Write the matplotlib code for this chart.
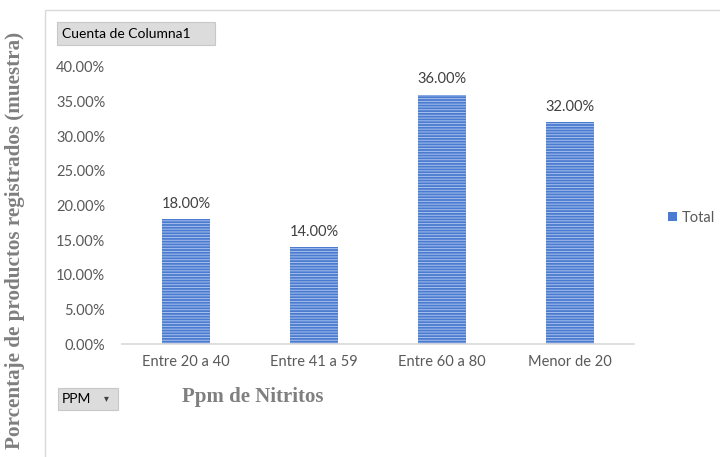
import matplotlib.pyplot as plt
import matplotlib.patches as patches
from matplotlib.ticker import FuncFormatter

categorias = ["Entre 20 a 40", "Entre 41 a 59", "Entre 60 a 80", "Menor de 20"]
porcentajes = [18.0, 14.0, 36.0, 32.0]
yticks = [0, 5, 10, 15, 20, 25, 30, 35, 40]

gris = "#595959"
plt.rcParams['font.family'] = ['Lato', 'DejaVu Sans']
plt.rcParams['hatch.linewidth'] = 0.7

fig = plt.figure(figsize=(7.2, 4.57), dpi=100)
ax = fig.add_axes([122 / 720, 1 - 344 / 457, 512 / 720, 277 / 457])

# borde del grafico
fig.patches.append(patches.Rectangle((45 / 720, -0.1), 1.2, 1 - 10 / 457 + 0.1,
                                     transform=fig.transFigure, fill=False,
                                     edgecolor="#D9D9D9", linewidth=1))

x = range(len(categorias))
bars = ax.bar(x, porcentajes, width=0.375, color="#4A7BD0", edgecolor="#A8C0EC",
              linewidth=0, hatch="------")
for b, v in zip(bars, porcentajes):
    ax.text(b.get_x() + b.get_width() / 2, v + 1.2, f"{v:.2f}%", ha="center",
            va="bottom", fontsize=10.5, color="#404040")

ax.set_xlim(-0.5, len(categorias) - 0.5)
ax.set_ylim(0, 40)
ax.set_yticks(yticks)
ax.yaxis.set_major_formatter(FuncFormatter(lambda v, p: f"{v:.2f}%"))
ax.set_xticks(list(x))
ax.set_xticklabels(categorias)
ax.tick_params(axis="both", length=0, labelsize=10.5, colors=gris)
ax.tick_params(axis="x", pad=8)
ax.tick_params(axis="y", pad=12)
for s in ["top", "right", "left"]:
    ax.spines[s].set_visible(False)
ax.spines["bottom"].set_color("#D9D9D9")
ax.spines["bottom"].set_linewidth(1.2)

handle = patches.Patch(facecolor="#4A7BD0", edgecolor="none", label="Total")
ax.legend(handles=[handle], loc="center left", bbox_to_anchor=(655 / 720, 1 - 218 / 457),
          bbox_transform=fig.transFigure, frameon=False, fontsize=10.5,
          handlelength=0.6, handleheight=0.6, handletextpad=0.3,
          labelcolor=gris)

fig.text(15 / 720, 1 - 240 / 457, "Porcentaje de productos registrados (muestra)",
         rotation=90, ha="center", va="center", fontsize=15.2, fontweight="bold",
         family="Liberation Serif", color="#7F7F7F")
fig.text(253 / 720, 1 - 397 / 457, "Ppm de Nitritos", ha="center", va="center",
         fontsize=15, fontweight="bold", family="Liberation Serif", color="#7F7F7F")

# botones de campo de la tabla dinamica
fig.patches.append(patches.Rectangle((57 / 720, 1 - 45 / 457), 158 / 720, 23 / 457,
                                     transform=fig.transFigure, facecolor="#DCDCDC",
                                     edgecolor="#C8C8C8", linewidth=0.8))
fig.text(62 / 720, 1 - 34 / 457, "Cuenta de Columna1", ha="left", va="center",
         fontsize=10, color="black")
fig.patches.append(patches.Rectangle((58 / 720, 1 - 410 / 457), 60 / 720, 22 / 457,
                                     transform=fig.transFigure, facecolor="#DCDCDC",
                                     edgecolor="#C8C8C8", linewidth=0.8))
fig.text(62 / 720, 1 - 399 / 457, "PPM", ha="left", va="center", fontsize=10, color="black")
fig.text(106 / 720, 1 - 398 / 457, "▾", ha="center", va="center", fontsize=7,
         color="#404040", family="DejaVu Sans")

fig.savefig("out.png", dpi=100)
